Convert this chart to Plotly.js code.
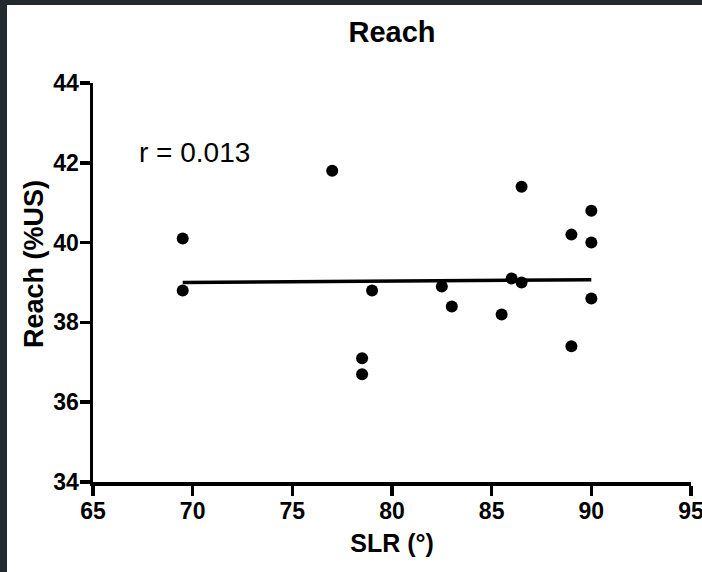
<!DOCTYPE html>
<html>
<head>
<meta charset="utf-8">
<script src="https://cdn.plot.ly/plotly-3.0.1.min.js"></script>
<style>
  html, body { margin: 0; padding: 0; background: #24292f; width: 702px; height: 572px; overflow: hidden; }
  #chart { position: absolute; left: 7px; top: 5px; width: 695px; height: 567px; background: #ffffff; }
</style>
</head>
<body>
<div id="chart"></div>
<script>
// SLR angle (degrees) and Reach (%US) for each subject
var slr   = [69.5, 69.5, 77.0, 78.5, 78.5, 79.0, 82.5, 83.0, 85.5, 86.0, 86.5, 86.5, 89.0, 89.0, 90.0, 90.0, 90.0];
var reach = [40.1, 38.8, 41.8, 37.1, 36.7, 38.8, 38.9, 38.4, 38.2, 39.1, 41.4, 39.0, 40.2, 37.4, 40.8, 40.0, 38.6];

// Linear regression line endpoints
var fitX = [69.5, 90.0];
var fitY = [39.0, 39.07];

var xTicks = [65, 70, 75, 80, 85, 90, 95];
var yTicks = [34, 36, 38, 40, 42, 44];

var chartTitle = 'Reach';
var xTitle = 'SLR (°)';
var yTitle = 'Reach (%US)';
var rLabel = 'r = 0.013';

var FONT = 'Liberation Sans, Arial, Helvetica, sans-serif';

var traces = [
  {
    x: fitX, y: fitY, type: 'scatter', mode: 'lines',
    line: { color: '#000000', width: 3.5 },
    hoverinfo: 'skip', showlegend: false
  },
  {
    x: slr, y: reach, type: 'scatter', mode: 'markers',
    marker: { color: '#000000', size: 12 },
    showlegend: false
  }
];

var axisCommon = {
  showgrid: false, zeroline: false,
  showline: true, linecolor: '#000000', linewidth: 3.5,
  ticks: 'outside', ticklen: 10, tickwidth: 3.5, tickcolor: '#000000',
  tickfont: { family: FONT, size: 23, color: '#000000', weight: 'bold' },
  ticklabeloverflow: 'allow',
  ticklabelstandoff: -4,
  automargin: false
};

var layout = {
  width: 695, height: 567,
  margin: { l: 86, r: 11, t: 78, b: 90 },
  paper_bgcolor: '#ffffff', plot_bgcolor: '#ffffff',
  showlegend: false,
  title: {
    text: chartTitle,
    font: { family: FONT, size: 29, color: '#000000', weight: 'bold' },
    x: 0.5, xref: 'paper', xanchor: 'center',
    y: 0.952, yref: 'container', yanchor: 'middle'
  },
  xaxis: Object.assign({}, axisCommon, {
    range: [65, 95], tickvals: xTicks, ticktext: xTicks.map(String),
    title: { text: xTitle, standoff: 12,
      font: { family: FONT, size: 25, color: '#000000', weight: 'bold' } }
  }),
  yaxis: Object.assign({}, axisCommon, {
    range: [34, 44], tickvals: yTicks, ticktext: yTicks.map(String)
  }),
  annotations: [
    {
      text: yTitle, textangle: -90,
      x: -0.0987, y: 0.546, xref: 'paper', yref: 'paper',
      xanchor: 'center', yanchor: 'middle', showarrow: false,
      font: { family: FONT, size: 27, color: '#000000', weight: 'bold' }
    },
    {
      text: rLabel, x: 67.2, y: 42.27, xref: 'x', yref: 'y',
      xanchor: 'left', yanchor: 'middle', showarrow: false,
      font: { family: FONT, size: 28, color: '#000000' }
    }
  ]
};

Plotly.newPlot('chart', traces, layout, { displayModeBar: false, staticPlot: true });
</script>
</body>
</html>
